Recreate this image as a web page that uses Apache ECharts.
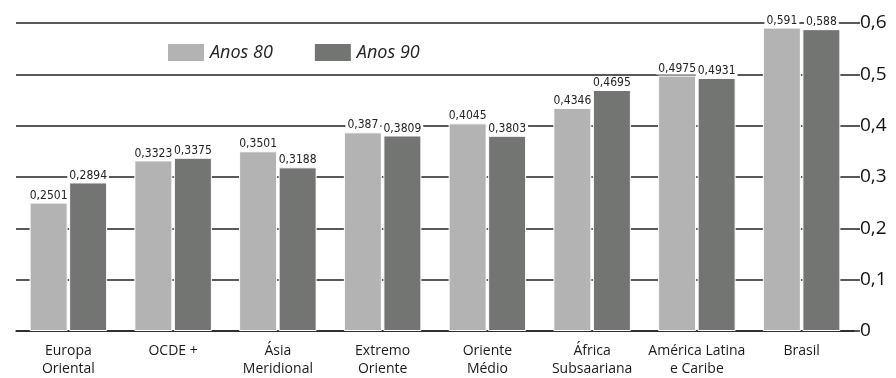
<!DOCTYPE html>
<html>
<head>
<meta charset="utf-8">
<script src="https://cdn.jsdelivr.net/npm/echarts@6/dist/echarts.min.js"></script>
<style>
  html, body { margin: 0; padding: 0; background: #fff; }
  #chart { width: 896px; height: 378px; }
</style>
</head>
<body>
<div id="chart"></div>
<script>
const categories = [
  'Europa\nOriental', 'OCDE +', 'Ásia\nMeridional', 'Extremo\nOriente',
  'Oriente\nMédio', 'África\nSubsaariana', 'América Latina\ne Caribe', 'Brasil'
];
const anos80 = [0.2501, 0.3323, 0.3501, 0.387, 0.4045, 0.4346, 0.4975, 0.591];
const anos90 = [0.2894, 0.3375, 0.3188, 0.3809, 0.3803, 0.4695, 0.4931, 0.588];
const yTicks = [0, 0.1, 0.2, 0.3, 0.4, 0.5, 0.6];

const comma = v => String(v).replace('.', ',');

const valueLabel = {
  show: true,
  position: 'top',
  distance: 1,
  fontFamily: '"DejaVu Sans Condensed", "DejaVu Sans", sans-serif',
  fontSize: 12,
  color: '#222',
  backgroundColor: '#fff',
  padding: [1, 2, 0, 2],
  formatter: p => comma(p.value)
};

const chart = echarts.init(document.getElementById('chart'));
chart.setOption({
  animation: false,
  textStyle: { fontFamily: 'Open Sans' },
  legend: {
    left: 161,
    top: 37,
    itemWidth: 38,
    itemHeight: 19,
    itemGap: 40,
    icon: 'rect',
    textStyle: { fontSize: 18, fontStyle: 'italic', color: '#222', fontFamily: 'Open Sans' },
    data: ['Anos 80', 'Anos 90']
  },
  grid: { left: 16, right: 42, top: 23, bottom: 46 },
  xAxis: {
    type: 'category',
    data: categories,
    axisLine: { lineStyle: { color: '#222', width: 1.5 } },
    axisTick: { inside: true, length: 7, lineStyle: { color: '#222', width: 1.5 } },
    axisLabel: { fontSize: 14, lineHeight: 18, color: '#1a1a1a', margin: 11, interval: 0 }
  },
  yAxis: {
    type: 'value',
    position: 'right',
    min: 0,
    max: 0.6,
    interval: 0.1,
    axisLine: { show: false },
    axisTick: { show: true, length: 6, lineStyle: { color: '#222', width: 1.5 } },
    splitLine: { lineStyle: { color: '#222', width: 1.5 } },
    axisLabel: {
      fontSize: 19,
      color: '#111',
      margin: 6,
      formatter: v => yTicks.includes(Math.round(v * 10) / 10) ? comma(Math.round(v * 10) / 10) : ''
    }
  },
  series: [
    {
      name: 'Anos 80',
      type: 'bar',
      data: anos80,
      barGap: '4%',
      barCategoryGap: '26%',
      itemStyle: { color: '#b3b3b3', borderColor: '#fff', borderWidth: 1 },
      label: valueLabel
    },
    {
      name: 'Anos 90',
      type: 'bar',
      data: anos90,
      itemStyle: { color: '#737572', borderColor: '#fff', borderWidth: 1 },
      label: valueLabel
    }
  ]
});
</script>
</body>
</html>
